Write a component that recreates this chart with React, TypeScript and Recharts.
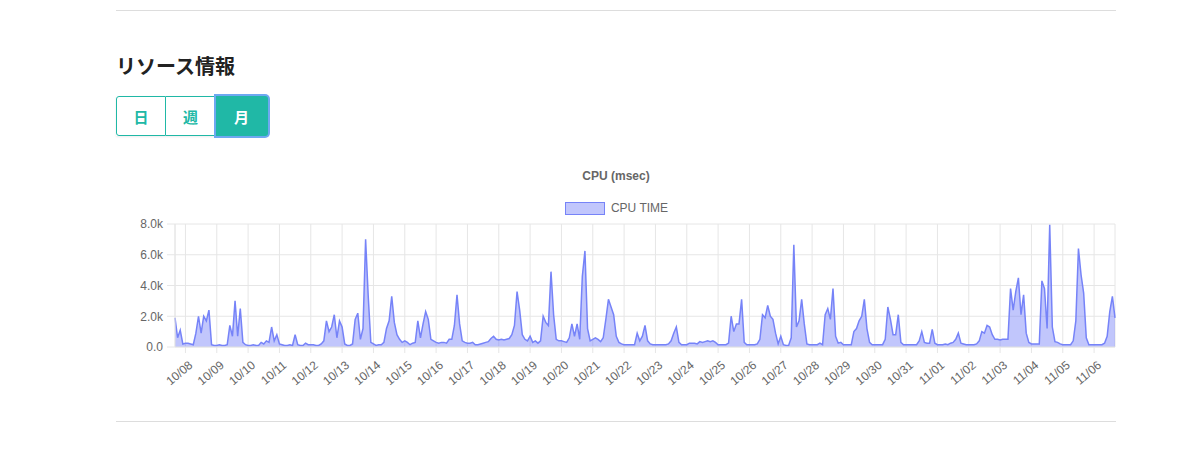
import React from 'react'
import { AreaChart, Area, XAxis, YAxis, CartesianGrid, Legend } from 'recharts'

// x labels, one per day (gridline at 00:00 of each day)
const dayLabels = [
  '10/08', '10/09', '10/10', '10/11', '10/12', '10/13', '10/14', '10/15', '10/16', '10/17',
  '10/18', '10/19', '10/20', '10/21', '10/22', '10/23', '10/24', '10/25', '10/26', '10/27',
  '10/28', '10/29', '10/30', '10/31', '11/01', '11/02', '11/03', '11/04', '11/05', '11/06',
]
const yTicks = [0, 2000, 4000, 6000, 8000]

// samples every 2 hours, first one at 10/07 16:00 (hour -8 relative to 10/08 00:00)
const startHour = -8
const stepHours = 2

// CPU TIME (msec), one row per day
const cpuTime = [
  1900, 600, 1100, 200, // 10/07
  250, 250, 200, 150, 900, 2000, 900, 2000, 1700, 2400, 150, 100, // 10/08
  100, 150, 100, 100, 150, 1400, 700, 3000, 700, 2500, 300, 150, // 10/09
  100, 100, 150, 100, 100, 300, 200, 400, 300, 1300, 400, 800, // 10/10
  200, 150, 100, 100, 150, 100, 800, 150, 100, 100, 250, 150, // 10/11
  150, 150, 100, 100, 200, 400, 1700, 1000, 1300, 2100, 600, 1700, // 10/12
  1300, 200, 100, 100, 200, 1800, 2200, 500, 1200, 7000, 3300, 300, // 10/13
  200, 100, 150, 150, 300, 1200, 1700, 3300, 1600, 800, 500, 300, // 10/14
  400, 300, 150, 250, 300, 1700, 600, 1500, 2300, 1800, 500, 400, // 10/15
  300, 250, 300, 300, 250, 500, 500, 1400, 3400, 1500, 400, 300, // 10/16
  250, 250, 300, 150, 150, 200, 250, 300, 350, 550, 700, 500, // 10/17
  450, 500, 450, 500, 550, 800, 1400, 3600, 2400, 800, 500, 400, // 10/18
  700, 300, 400, 250, 400, 2000, 1600, 1400, 4900, 2100, 500, 400, // 10/19
  400, 350, 300, 600, 1500, 700, 1500, 500, 4600, 6250, 1200, 400, // 10/20
  500, 600, 500, 350, 600, 1800, 3100, 2600, 2100, 700, 300, 200, // 10/21
  150, 150, 150, 150, 150, 900, 400, 700, 1400, 400, 200, 150, // 10/22
  150, 150, 150, 150, 150, 200, 400, 900, 1300, 300, 150, 150, // 10/23
  150, 250, 250, 250, 200, 350, 300, 350, 400, 350, 400, 300, // 10/24
  150, 150, 150, 150, 250, 2000, 1000, 1500, 1500, 3100, 300, 150, // 10/25
  150, 150, 150, 200, 500, 2100, 1900, 2700, 2000, 1800, 900, 200, // 10/26
  700, 150, 100, 100, 600, 6650, 1300, 1700, 3100, 1500, 200, 150, // 10/27
  150, 150, 150, 250, 150, 2100, 2500, 1800, 3800, 700, 250, 300, // 10/28
  150, 150, 150, 150, 1000, 1200, 1700, 2000, 3100, 1200, 300, 150, // 10/29
  150, 150, 150, 150, 500, 2600, 1800, 800, 800, 2100, 300, 150, // 10/30
  150, 150, 150, 150, 150, 400, 1000, 300, 250, 250, 1150, 250, // 10/31
  150, 150, 150, 200, 150, 250, 300, 500, 900, 250, 200, 150, // 11/01
  150, 150, 150, 200, 400, 1000, 900, 1400, 1300, 800, 500, 500, // 11/02
  450, 500, 500, 500, 3800, 2400, 3600, 4500, 2100, 3400, 900, 300, // 11/03
  200, 200, 200, 200, 4300, 3800, 1200, 7950, 1300, 350, 300, 200, // 11/04
  150, 150, 150, 150, 400, 1700, 6400, 4700, 3500, 600, 150, 150, // 11/05
  150, 150, 150, 150, 250, 700, 2300, 3300, 1900, // 11/06
]

const data = cpuTime.map((v, i) => ({ hour: startHour + i * stepHours, cpu: v }))
const dayTicks = dayLabels.map((_, i) => i * 24)

const FONT = '"Liberation Sans", Arial, Helvetica, sans-serif'
const TEAL = '#20b8a6'
const LINE = '#7683f8'
const FILL = 'rgba(118,128,248,0.45)'
const GRID = '#e6e6e6'

const XTick = (props: any) => {
  const { x, y, payload } = props
  const label = dayLabels[Math.round(payload.value / 24)]
  return (
    <g transform={`translate(${x + 6},${y + 9})`}>
      <text textAnchor="end" dominantBaseline="middle" transform="rotate(-40)" fill="#666" fontSize={12} fontFamily={FONT}>
        {label}
      </text>
    </g>
  )
}

const LegendContent = () => (
  <div style={{ height: 26, display: 'flex', justifyContent: 'center', alignItems: 'flex-start', paddingTop: 4, boxSizing: 'border-box' }}>
    <span style={{ width: 40, height: 13, boxSizing: 'border-box', background: FILL, border: `1px solid ${LINE}`, marginLeft: 2 }} />
    <span style={{ marginLeft: 6, fontSize: 12, lineHeight: '13px', color: '#666', fontFamily: FONT }}>CPU TIME</span>
  </div>
)

const btn: React.CSSProperties = {
  width: 50,
  height: 40,
  boxSizing: 'border-box',
  border: `1px solid ${TEAL}`,
  color: TEAL,
  fontSize: 15,
  fontWeight: 700,
  display: 'flex',
  alignItems: 'center',
  justifyContent: 'center',
  fontFamily: '"Noto Sans CJK JP", sans-serif',
  background: '#fff',
}

export default function App() {
  return (
    <div style={{ position: 'relative', width: 1200, height: 450, background: '#fff', overflow: 'hidden' }}>
      <style>{'body{margin:0}'}</style>
      <div style={{ position: 'absolute', left: 116, top: 10, width: 1000, borderTop: '1px solid #ddd' }} />
      <div style={{ position: 'absolute', left: 116, top: 52, fontSize: 20, lineHeight: '28px', fontWeight: 700, color: '#222', fontFamily: '"Noto Sans CJK JP", sans-serif' }}>
        リソース情報
      </div>
      <div style={{ position: 'absolute', left: 116, top: 96, display: 'flex', boxShadow: '0 1px 2px rgba(0,0,0,0.08)' }}>
        <div style={{ ...btn, borderRadius: '3px 0 0 3px' }}>日</div>
        <div style={{ ...btn, borderLeft: 'none' }}>週</div>
        <div style={{ ...btn, width: 52, borderLeft: 'none', background: TEAL, color: '#fff', borderRadius: '0 3px 3px 0', boxShadow: '0 0 0 2px #6ea8f1' }}>月</div>
      </div>
      <div style={{ position: 'absolute', left: 116, top: 169, width: 1000, textAlign: 'center', fontSize: 12, fontWeight: 700, color: '#666', fontFamily: FONT }}>
        CPU (msec)
      </div>
      <div style={{ position: 'absolute', left: 116, top: 160 }}>
        <AreaChart width={1000} height={250} data={data} margin={{ top: 38, right: 1, bottom: 23, left: 0 }}>
          <CartesianGrid stroke={GRID} />
          <Legend verticalAlign="top" content={<LegendContent />} />
          <XAxis
            dataKey="hour"
            type="number"
            domain={['dataMin', 'dataMax']}
            ticks={dayTicks}
            interval={0}
            height={40}
            tickSize={6}
            tickMargin={2}
            axisLine={{ stroke: GRID }}
            tickLine={{ stroke: GRID }}
            tick={<XTick />}
          />
          <YAxis
            width={59}
            domain={[0, 8000]}
            ticks={yTicks}
            tickSize={8}
            tickMargin={4}
            axisLine={{ stroke: GRID }}
            tickLine={{ stroke: GRID }}
            tick={{ fill: '#666', fontSize: 12, fontFamily: FONT }}
            tickFormatter={(v: number) => (v === 0 ? '0.0' : (v / 1000).toFixed(1) + 'k')}
          />
          <Area
            type="linear"
            dataKey="cpu"
            name="CPU TIME"
            stroke={LINE}
            strokeWidth={1.5}
            fill={FILL}
            fillOpacity={1}
            dot={false}
            activeDot={false}
            isAnimationActive={false}
          />
        </AreaChart>
      </div>
      <div style={{ position: 'absolute', left: 116, top: 421, width: 1000, borderTop: '1px solid #ddd' }} />
    </div>
  )
}
